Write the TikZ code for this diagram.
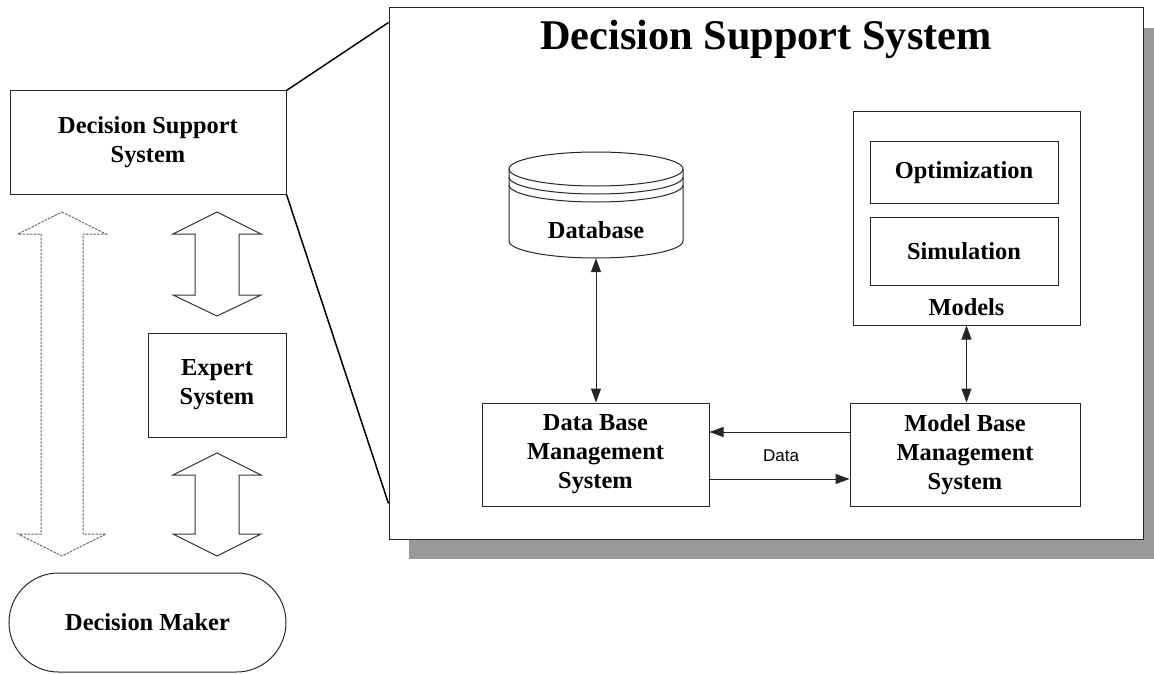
\documentclass[tikz,border=0pt]{standalone}
\usepackage{fontspec}
\setmainfont{Liberation Serif}
\newfontfamily\sansf{Liberation Sans}
\usetikzlibrary{arrows.meta}
\tikzset{
  box/.style={draw=black!85, line width=1pt, inner sep=0pt, fill=white},
  lbl/.style={font=\fontsize{24.4}{29}\selectfont\bfseries, align=center, inner sep=0pt},
  tip/.style={-{Triangle[length=14pt,width=10pt]}},
  conn/.style={line width=1pt, draw=black!85, {Triangle[length=14pt,width=10pt]}-{Triangle[length=14pt,width=10pt]}},
  onearrow/.style={line width=1pt, draw=black!85, -{Triangle[length=14pt,width=10pt]}},
  blockarrow/.style={draw=black!80, line width=1pt, line join=miter},
  dashblock/.style={draw=black!60, line width=1pt, dash pattern=on 2.5pt off 1.2pt},
  zoomline/.style={draw=black, line width=1.5pt},
}
\begin{document}
\begin{tikzpicture}[x=1pt,y=-1pt]
\useasboundingbox (0,0) rectangle (1154,674);

% big panel with shadow
\fill[black!40] (409,28) rectangle (1154,559);
\node[box, minimum width=754pt, minimum height=531pt] (big) at (766,273.5) {};
\node[font=\fontsize{42.3}{50}\selectfont\bfseries, inner sep=0pt] (title) at (766,39) {Decision Support System};

% left column
\node[box, lbl, minimum width=276pt, minimum height=103pt] (dss) at (148,142.5) {Decision Support\\System};
\node[box, lbl, minimum width=138pt, minimum height=104pt] (es) at (217,385) {Expert\\System};
\node[box, lbl, minimum width=277pt, minimum height=99pt, rounded corners=49.5pt] (dm) at (147.5,622.5) {Decision Maker};

% zoom lines
\draw[zoomline] (dss.north east) -- ([yshift=-15pt]big.north west);
\draw[zoomline] (dss.south east) -- ([yshift=36pt]big.south west);

% block arrows
\draw[dashblock] (62,212) -- (106,234) -- (83,234) -- (83,534) -- (106,534) -- (62,556) -- (18,534) -- (41,534) -- (41,234) -- (18,234) -- cycle;
\draw[blockarrow] (217,212) -- (261,234) -- (239,234) -- (239,295) -- (261,295) -- (217,316) -- (173,295) -- (195,295) -- (195,234) -- (173,234) -- cycle;
\draw[blockarrow] (217,453) -- (261,475) -- (239,475) -- (239,534) -- (261,534) -- (217,556) -- (173,534) -- (195,534) -- (195,475) -- (173,475) -- cycle;

% database cylinder
\node[minimum width=174pt, minimum height=106pt, inner sep=0pt] (db) at (596,205) {};
\draw[black!85, line width=1pt] (596,169) ellipse [x radius=87pt, y radius=17pt];
\draw[black!85, line width=1pt] (509,177) arc[start angle=180, end angle=360, x radius=87pt, y radius=17pt];
\draw[black!85, line width=1pt] (509,185) arc[start angle=180, end angle=360, x radius=87pt, y radius=17pt];
\draw[black!85, line width=1pt] (509,169) -- (509,241) arc[start angle=180, end angle=360, x radius=87pt, y radius=17pt] -- (683,169);
\node[lbl] (dblabel) at (596,230) {Database};

% models
\node[box, minimum width=227pt, minimum height=213pt] (models) at (966.5,218.5) {};
\node[box, lbl, minimum width=188pt, minimum height=61pt] (opt) at (964,172.5) {Optimization};
\node[box, lbl, minimum width=188pt, minimum height=68pt] (sim) at (964,251) {Simulation};
\node[lbl] (modlabel) at (966.5,307) {Models};

% management systems
\node[box, lbl, minimum width=227pt, minimum height=103pt] (dbms) at (595.5,454.5) {Data Base\\Management\\System};
\node[box, lbl, minimum width=230pt, minimum height=103pt] (mbms) at (965,454.5) {Model Base\\Management\\System};

% connectors
\draw[conn] (db.south) -- (db.south |- dbms.north);
\draw[conn] (models.south) -- (models.south |- mbms.north);
\draw[onearrow] ([yshift=22.5pt]mbms.west) -- ([yshift=22.5pt]dbms.east);
\draw[onearrow] ([yshift=-24.5pt]dbms.east) -- ([yshift=-24.5pt]mbms.west);
\node[font=\sansf\fontsize{17}{20}\selectfont, inner sep=0pt] (data) at (781,456) {Data};
\end{tikzpicture}
\end{document}
